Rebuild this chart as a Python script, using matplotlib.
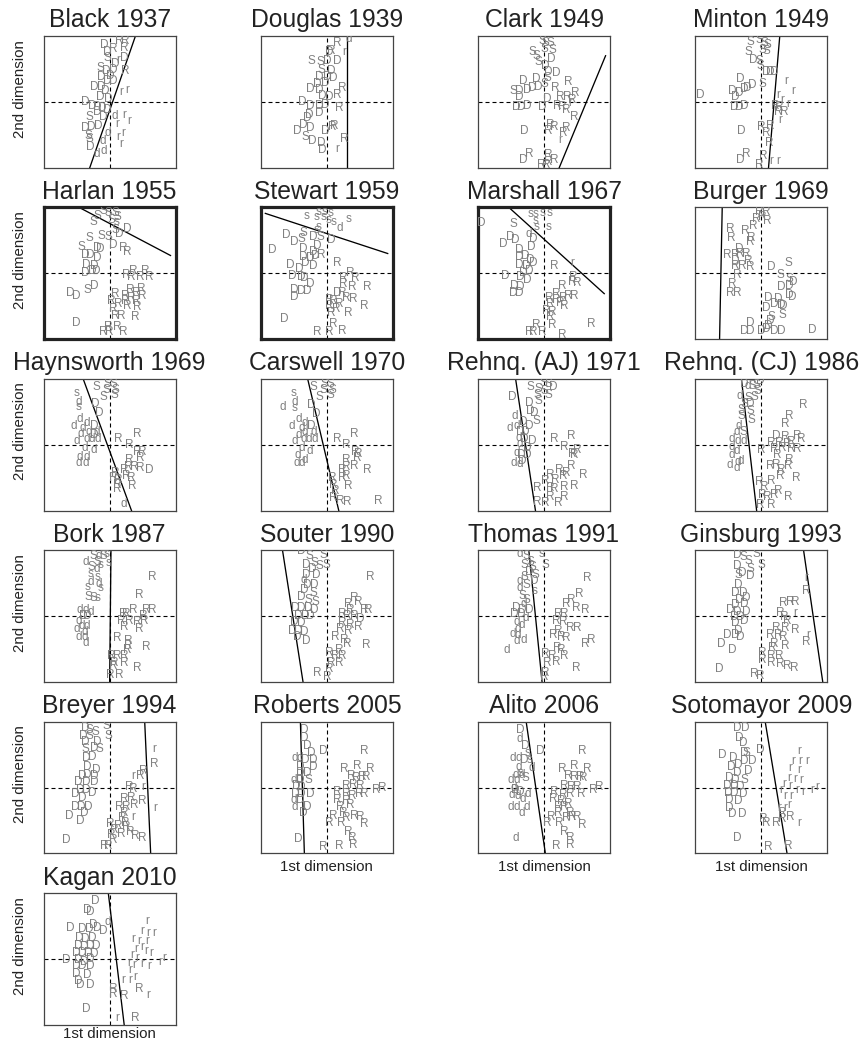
import matplotlib
matplotlib.use('Agg')
import matplotlib.pyplot as plt

plt.rcParams['font.family'] = ['Liberation Sans', 'DejaVu Sans']

# ideal points (letter, 1st dim, 2nd dim)
black = [("D",-0.08,0.87),("R",0.06,0.81),("R",0.14,0.92),("R",0.24,0.92),("R",0.22,0.82),
    ("D",-0.03,0.76),("S",-0.03,0.66),("r",0.13,0.63),("D",0.22,0.67),("D",0.08,0.58),
    ("S",-0.14,0.51),("D",-0.05,0.47),("D",0.06,0.48),("R",0.23,0.47),("D",-0.12,0.38),
    ("D",0.01,0.39),("D",-0.03,0.31),("D",0.06,0.31),("D",-0.24,0.22),("D",-0.13,0.22),
    ("D",-0.07,0.17),("r",0.18,0.15),("r",0.27,0.18),("D",-0.14,0.07),("D",-0.02,0.04),
    ("D",-0.37,0.00),("D",-0.26,-0.06),("D",-0.18,-0.08),("D",-0.11,-0.10),("D",-0.03,-0.12),
    ("D",-0.19,-0.16),("S",-0.30,-0.23),("D",-0.09,-0.23),("d",0.07,-0.22),("r",0.22,-0.20),
    ("r",0.30,-0.29),("r",0.12,-0.33),("D",-0.37,-0.40),("D",-0.28,-0.39),("D",-0.17,-0.37),
    ("S",-0.32,-0.52),("d",-0.03,-0.47),("r",0.13,-0.54),("r",0.20,-0.47),("S",-0.31,-0.57),
    ("d",-0.11,-0.60),("r",0.18,-0.64),("D",-0.29,-0.68),("d",-0.19,-0.79),("d",-0.09,-0.75)]

douglas = [("R",0.15,0.90),("d",0.33,0.95),("D",0.03,0.75),("R",0.07,0.77),("r",0.26,0.76),
    ("S",-0.24,0.62),("S",-0.10,0.60),("D",0.01,0.62),("D",0.15,0.62),("S",-0.09,0.48),
    ("D",0.06,0.47),("D",-0.12,0.37),("D",0.01,0.37),("D",0.10,0.36),("D",-0.15,0.27),
    ("D",-0.03,0.28),("D",-0.25,0.19),("D",-0.12,0.18),("R",0.24,0.21),("R",0.15,0.11),
    ("D",-0.07,0.09),("D",0.03,0.07),("D",-0.37,0.00),("D",-0.25,-0.06),("D",-0.12,-0.06),
    ("D",-0.02,-0.05),("R",0.19,-0.09),("D",-0.27,-0.20),("D",-0.12,-0.17),("D",-0.29,-0.25),
    ("D",-0.35,-0.35),("D",-0.25,-0.40),("R",0.11,-0.37),("R",0.08,-0.39),("D",-0.45,-0.45),
    ("D",-0.03,-0.45),("S",-0.32,-0.54),("D",-0.22,-0.59),("D",-0.08,-0.62),("R",0.27,-0.57),
    ("r",0.15,-0.71),("D",-0.07,-0.74)]

clark = [("S",-0.03,0.93),("S",0.02,0.89),("S",0.10,0.89),("S",0.00,0.80),("S",0.12,0.78),
    ("S",-0.18,0.75),("S",-0.11,0.70),("D",0.11,0.65),("S",-0.09,0.61),("D",0.02,0.54),
    ("D",0.07,0.45),("D",0.19,0.44),("S",0.05,0.36),("D",-0.31,0.32),("D",-0.12,0.34),
    ("R",0.36,0.30),("S",-0.46,0.17),("D",-0.37,0.17),("D",-0.26,0.18),("D",-0.18,0.21),
    ("D",-0.09,0.22),("S",0.00,0.27),("R",0.17,0.21),("D",-0.38,0.08),("R",0.47,0.14),
    ("R",0.25,0.08),("D",0.05,0.04),("R",0.35,0.07),("R",0.43,0.03),("D",-0.42,-0.08),
    ("D",-0.35,-0.08),("D",-0.25,-0.06),("D",-0.03,-0.08),("R",0.20,-0.06),("R",0.28,-0.08),
    ("R",0.34,-0.13),("r",0.40,-0.02),("R",0.45,-0.23),("D",-0.30,-0.44),("R",0.10,-0.35),
    ("R",0.15,-0.38),("R",0.07,-0.45),("R",0.33,-0.40),("R",0.29,-0.47),("r",0.25,-0.58),
    ("D",-0.32,-0.88),("R",-0.22,-0.79),("R",0.06,-0.81),("R",0.07,-0.91),("R",0.15,-0.89),
    ("R",-0.04,-0.96),("R",0.04,-0.96)]

minton = [("S",-0.16,0.91),("S",-0.03,0.94),("S",0.04,0.90),("S",0.10,0.87),("S",0.02,0.79),
    ("S",0.07,0.77),("S",-0.19,0.75),("D",-0.12,0.63),("S",-0.03,0.62),("S",-0.01,0.54),
    ("D",0.07,0.46),("D",0.14,0.46),("D",0.19,0.45),("D",-0.31,0.34),("D",-0.13,0.26),
    ("D",-0.26,0.19),("D",-0.44,0.17),("D",-0.34,0.14),("S",0.02,0.27),("D",-0.21,0.21),
    ("r",0.37,0.31),("r",0.48,0.16),("D",-0.92,0.11),("D",-0.39,0.08),("r",0.26,0.11),
    ("r",0.31,0.03),("r",0.41,-0.03),("R",0.21,-0.06),("R",0.27,-0.08),("R",0.35,-0.15),
    ("D",-0.41,-0.08),("D",-0.34,-0.08),("D",-0.25,-0.06),("R",0.26,-0.16),("r",0.29,-0.27),
    ("D",-0.30,-0.44),("R",0.00,-0.38),("R",0.14,-0.37),("R",0.08,-0.47),("R",0.12,-0.62),
    ("D",-0.32,-0.89),("R",-0.22,-0.79),("R",0.03,-0.82),("R",-0.03,-0.96),("r",0.15,-0.90),
    ("r",0.25,-0.90)]

harlan = [("S",-0.09,0.94),("S",-0.02,0.91),("S",0.08,0.92),("S",0.11,0.86),("S",-0.19,0.87),
    ("S",-0.24,0.78),("S",0.03,0.81),("s",0.10,0.78),("D",0.27,0.68),("S",0.08,0.65),
    ("D",0.15,0.60),("S",-0.30,0.53),("S",-0.12,0.56),("S",-0.02,0.55),("D",0.06,0.43),
    ("S",-0.42,0.40),("D",-0.19,0.38),("D",-0.14,0.37),("R",0.20,0.38),("R",0.27,0.32),
    ("D",-0.37,0.28),("D",-0.30,0.27),("D",-0.19,0.23),("D",-0.35,0.13),("D",-0.24,0.11),
    ("D",-0.37,0.01),("D",-0.27,0.03),("D",-0.20,0.03),("R",0.25,-0.02),("R",0.36,0.03),
    ("R",0.54,0.03),("R",0.60,-0.06),("R",0.33,-0.05),("R",0.46,-0.06),("D",-0.23,-0.19),
    ("S",-0.34,-0.25),("R",0.31,-0.26),("R",0.40,-0.30),("R",0.48,-0.24),("D",-0.60,-0.30),
    ("D",-0.51,-0.35),("R",0.08,-0.32),("R",0.23,-0.35),("R",0.33,-0.37),("R",0.50,-0.35),
    ("R",0.03,-0.42),("R",0.13,-0.46),("R",0.23,-0.42),("R",0.40,-0.42),("R",0.06,-0.55),
    ("R",0.27,-0.50),("R",0.41,-0.51),("R",0.08,-0.65),("R",0.17,-0.65),("R",0.39,-0.67),
    ("D",-0.51,-0.75),("R",-0.02,-0.82),("R",0.11,-0.82),("R",-0.09,-0.90),("R",0.00,-0.90),
    ("R",0.21,-0.89)]

stewart = [("s",-0.31,0.87),("s",-0.13,0.93),("s",-0.03,0.93),("s",0.05,0.91),("s",-0.15,0.85),
    ("s",-0.05,0.85),("s",0.03,0.81),("s",0.10,0.78),("d",0.19,0.69),("s",0.33,0.83),
    ("s",-0.13,0.71),("s",-0.15,0.65),("S",-0.35,0.61),("D",-0.62,0.58),("D",-0.49,0.47),
    ("S",-0.38,0.52),("D",-0.21,0.55),("S",-0.10,0.55),("D",0.06,0.50),("D",-0.15,0.41),
    ("D",-0.82,0.35),("D",-0.36,0.37),("D",-0.21,0.33),("R",-0.09,0.28),("D",-0.35,0.25),
    ("D",-0.25,0.23),("D",-0.18,0.26),("D",-0.33,0.16),("D",-0.20,0.11),("D",-0.55,0.13),
    ("R",0.16,0.15),("D",-0.41,0.06),("D",-0.38,-0.06),("D",-0.53,-0.04),("D",-0.34,-0.07),
    ("D",-0.25,-0.16),("R",0.35,0.00),("R",0.25,-0.07),("R",0.43,-0.07),("R",0.25,-0.16),
    ("R",0.38,-0.21),("R",0.61,-0.21),("D",-0.49,-0.25),("D",-0.38,-0.27),("D",-0.30,-0.27),
    ("D",-0.49,-0.36),("D",0.16,-0.30),("R",0.23,-0.30),("R",0.30,-0.37),("R",0.40,-0.39),
    ("R",0.03,-0.40),("R",0.10,-0.42),("R",0.03,-0.50),("R",0.18,-0.47),("R",0.14,-0.55),
    ("R",0.56,-0.50),("R",0.06,-0.61),("R",0.33,-0.61),("D",-0.65,-0.70),("R",0.09,-0.77),
    ("R",-0.15,-0.89),("R",0.03,-0.90),("R",0.23,-0.87)]

marshall = [("D",-0.95,0.77),("S",-0.47,0.75),("s",-0.21,0.90),("s",-0.13,0.90),("s",-0.02,0.92),
    ("s",0.08,0.91),("s",-0.13,0.80),("s",-0.12,0.70),("s",0.07,0.70),("d",-0.23,0.60),
    ("D",-0.16,0.52),("D",-0.19,0.40),("D",-0.61,0.45),("D",-0.51,0.55),("D",-0.44,0.50),
    ("D",-0.37,0.35),("D",-0.37,0.25),("D",-0.28,0.26),("D",-0.21,0.20),("D",-0.38,0.13),
    ("D",-0.27,0.11),("D",-0.17,0.16),("D",-0.31,0.01),("D",-0.22,0.03),("D",-0.59,-0.04),
    ("D",-0.36,-0.05),("D",-0.26,-0.10),("R",0.15,0.11),("r",0.42,0.16),("R",0.44,-0.05),
    ("R",0.42,-0.14),("R",0.50,-0.15),("R",0.28,-0.19),("D",-0.45,-0.19),("D",-0.36,-0.21),
    ("D",-0.46,-0.30),("D",-0.37,-0.30),("R",0.19,-0.32),("R",0.08,-0.37),("R",0.19,-0.40),
    ("R",0.29,-0.37),("R",0.37,-0.35),("R",0.45,-0.35),("R",0.10,-0.46),("R",0.24,-0.45),
    ("R",0.30,-0.49),("R",0.04,-0.57),("R",0.13,-0.59),("R",0.09,-0.67),("R",-0.12,-0.79),
    ("R",0.12,-0.79),("R",0.72,-0.77),("R",-0.23,-0.90),("R",-0.16,-0.90),("R",-0.02,-0.89),
    ("R",0.28,-0.94)]

burger = [("R",-0.03,0.93),("R",0.07,0.93),("R",0.02,0.86),("R",-0.08,0.82),("R",0.09,0.80),
    ("R",-0.12,0.72),("R",-0.47,0.67),("R",-0.24,0.64),("R",-0.46,0.53),("R",-0.15,0.53),
    ("R",-0.17,0.47),("D",-0.34,0.37),("R",-0.51,0.27),("R",-0.40,0.27),("R",-0.31,0.29),
    ("R",-0.22,0.29),("R",-0.19,0.19),("R",-0.39,0.11),("R",-0.29,0.11),("R",-0.17,0.10),
    ("D",-0.39,0.19),("R",-0.36,-0.03),("R",-0.44,-0.16),("R",-0.47,-0.30),("R",-0.37,-0.30),
    ("D",0.15,0.10),("S",0.41,0.15),("S",0.29,-0.02),("S",0.42,-0.09),("D",0.49,-0.13),
    ("D",0.42,-0.19),("D",0.30,-0.21),("D",0.42,-0.33),("D",0.47,-0.36),("D",0.10,-0.38),
    ("D",0.25,-0.39),("D",0.20,-0.46),("D",0.30,-0.48),("D",0.34,-0.49),("D",0.07,-0.53),
    ("S",0.32,-0.63),("S",0.15,-0.66),("D",0.14,-0.72),("D",-0.17,-0.75),("D",0.10,-0.80),
    ("D",-0.26,-0.88),("D",-0.16,-0.87),("D",0.00,-0.88),("D",0.20,-0.88),("D",0.30,-0.87),
    ("D",0.77,-0.86),("D",0.08,-0.85)]

haynsworth = [("s",-0.50,0.79),("S",-0.20,0.88),("S",-0.03,0.93),("S",0.06,0.92),("S",-0.05,0.83),
    ("S",0.08,0.83),("S",-0.10,0.73),("S",0.07,0.75),("d",-0.47,0.65),("s",-0.47,0.57),
    ("D",-0.22,0.62),("D",-0.16,0.48),("d",-0.45,0.39),("d",-0.34,0.33),("d",-0.54,0.28),
    ("D",-0.24,0.29),("d",-0.40,0.25),("d",-0.32,0.19),("d",-0.44,0.16),("d",-0.20,0.19),
    ("D",-0.24,0.15),("d",-0.49,0.05),("d",-0.35,0.08),("d",-0.27,0.09),("d",-0.18,0.09),
    ("d",-0.37,-0.05),("d",-0.24,-0.08),("d",-0.45,-0.18),("d",-0.35,-0.18),("d",-0.46,-0.28),
    ("d",-0.36,-0.28),("R",0.13,0.09),("R",0.41,0.16),("R",0.30,-0.01),("R",0.42,-0.11),
    ("R",0.49,-0.11),("R",0.47,-0.20),("R",0.30,-0.23),("R",0.28,-0.34),("R",0.37,-0.34),
    ("R",0.46,-0.36),("D",0.60,-0.39),("R",0.08,-0.43),("R",0.22,-0.39),("R",0.06,-0.51),
    ("R",0.13,-0.53),("R",0.25,-0.48),("R",0.32,-0.51),("R",0.11,-0.61),("R",0.34,-0.63),
    ("R",0.12,-0.68),("d",0.21,-0.90)]

carswell = [("s",-0.50,0.79),("S",-0.20,0.88),("S",-0.04,0.93),("S",0.06,0.92),("S",-0.06,0.83),
    ("S",0.08,0.83),("S",-0.11,0.73),("S",0.06,0.75),("d",-0.67,0.57),("d",-0.49,0.65),
    ("s",-0.49,0.56),("D",-0.24,0.61),("D",-0.16,0.47),("d",-0.43,0.39),("d",-0.34,0.33),
    ("d",-0.53,0.28),("D",-0.24,0.29),("d",-0.38,0.25),("d",-0.34,0.19),("d",-0.43,0.15),
    ("d",-0.20,0.19),("d",-0.48,0.05),("d",-0.35,0.08),("d",-0.28,0.09),("d",-0.19,0.08),
    ("d",-0.38,-0.05),("d",-0.26,-0.09),("d",-0.44,-0.16),("d",-0.34,-0.23),("d",-0.46,-0.28),
    ("d",-0.38,-0.28),("R",0.15,0.09),("R",0.42,0.16),("R",0.30,-0.01),("R",0.43,-0.11),
    ("R",0.48,-0.14),("R",0.46,-0.20),("R",0.30,-0.23),("R",0.30,-0.34),("R",0.42,-0.33),
    ("R",0.61,-0.39),("R",0.23,-0.39),("R",0.08,-0.51),("R",0.23,-0.50),("R",0.30,-0.47),
    ("R",0.10,-0.61),("R",0.33,-0.63),("R",0.13,-0.71),("R",0.21,-0.86),("R",0.31,-0.87),
    ("R",0.77,-0.85),("R",0.10,-0.81)]

rehnq_aj = [("S",-0.21,0.88),("S",-0.01,0.94),("S",0.07,0.92),("D",0.14,0.87),("S",-0.08,0.84),
    ("S",0.00,0.81),("S",-0.10,0.75),("S",0.07,0.75),("S",-0.09,0.67),("D",-0.48,0.73),
    ("D",-0.23,0.63),("D",-0.21,0.51),("D",-0.15,0.48),("S",-0.11,0.36),("d",-0.45,0.44),
    ("d",-0.52,0.26),("d",-0.41,0.28),("D",-0.32,0.34),("D",-0.23,0.28),("D",-0.36,0.19),
    ("D",-0.28,0.19),("d",-0.39,0.10),("D",-0.30,0.08),("D",-0.18,0.06),("d",-0.36,0.01),
    ("D",-0.26,-0.05),("d",-0.41,-0.13),("D",-0.34,-0.15),("D",-0.26,-0.15),("d",-0.46,-0.28),
    ("d",-0.36,-0.29),("D",-0.33,-0.24),("R",0.15,0.08),("R",0.41,0.14),("R",0.30,-0.03),
    ("R",0.50,-0.08),("R",0.43,-0.14),("R",0.46,-0.16),("R",0.41,-0.33),("R",0.23,-0.39),
    ("R",0.33,-0.43),("R",0.60,-0.46),("R",0.10,-0.46),("R",0.02,-0.55),("R",0.17,-0.53),
    ("R",0.29,-0.48),("R",-0.10,-0.66),("R",0.10,-0.66),("R",0.16,-0.68),("R",0.30,-0.65),
    ("R",0.46,-0.62),("R",0.09,-0.80),("R",0.30,-0.80),("R",-0.10,-0.87),("R",0.02,-0.89),
    ("R",0.21,-0.89)]

rehnq_cj = [("S",-0.08,0.91),("D",-0.01,0.97),("d",-0.20,0.89),("S",-0.14,0.89),("D",-0.25,0.92),
    ("S",-0.06,0.81),("d",-0.32,0.74),("S",-0.19,0.71),("S",-0.11,0.72),("D",-0.17,0.62),
    ("S",-0.26,0.62),("S",-0.30,0.53),("S",-0.17,0.52),("S",-0.30,0.43),("S",-0.15,0.38),
    ("d",-0.34,0.28),("d",-0.37,0.19),("S",-0.27,0.19),("d",-0.44,0.08),("d",-0.36,0.05),
    ("d",-0.26,0.05),("d",-0.44,-0.03),("d",-0.37,-0.09),("d",-0.44,-0.15),("d",-0.31,-0.24),
    ("d",-0.47,-0.31),("d",-0.37,-0.36),("d",-0.36,-0.27),("R",0.63,0.61),("R",0.43,0.43),
    ("R",0.37,0.31),("D",0.22,0.14),("R",0.36,0.11),("R",0.54,0.13),("R",0.61,0.09),
    ("R",0.15,0.03),("R",0.27,0.03),("R",0.39,0.01),("R",0.46,0.04),("R",0.00,-0.08),
    ("R",0.20,-0.06),("R",0.32,-0.05),("R",0.45,-0.06),("R",0.54,-0.06),("R",0.24,-0.15),
    ("R",0.42,-0.23),("R",0.22,-0.31),("R",0.14,-0.33),("R",0.30,-0.38),("R",0.41,-0.32),
    ("R",0.29,-0.47),("R",0.53,-0.50),("R",-0.03,-0.56),("R",0.15,-0.55),("R",0.04,-0.64),
    ("R",0.25,-0.70),("R",0.02,-0.77),("R",0.09,-0.80),("R",0.19,-0.77),("R",0.41,-0.80),
    ("R",-0.02,-0.91),("R",0.15,-0.91)]

bork = [("d",-0.36,0.83),("S",-0.25,0.91),("d",-0.17,0.92),("S",-0.09,0.92),("s",-0.05,0.94),
    ("S",-0.19,0.83),("s",-0.13,0.78),("s",-0.02,0.81),("S",-0.27,0.74),("d",-0.19,0.72),
    ("s",-0.29,0.64),("s",-0.19,0.59),("d",-0.28,0.52),("d",-0.17,0.49),("s",-0.34,0.45),
    ("s",-0.14,0.43),("S",-0.32,0.29),("S",-0.24,0.27),("s",-0.19,0.27),("d",-0.45,0.10),
    ("d",-0.36,0.10),("d",-0.28,0.07),("D",-0.40,0.00),("D",-0.34,0.01),("d",-0.46,-0.07),
    ("d",-0.42,-0.15),("d",-0.34,-0.15),("d",-0.50,-0.20),("d",-0.37,-0.24),("d",-0.46,-0.31),
    ("d",-0.37,-0.32),("d",-0.36,-0.41),("R",0.64,0.60),("R",0.45,0.32),("R",0.36,0.10),
    ("R",0.56,0.10),("R",0.64,0.10),("R",0.20,0.03),("R",0.25,0.03),("R",0.18,-0.07),
    ("R",0.30,-0.07),("R",0.51,0.00),("R",0.52,-0.08),("R",0.41,-0.09),("R",0.22,-0.17),
    ("R",0.45,-0.20),("R",0.28,-0.38),("R",0.12,-0.33),("R",0.28,-0.46),("R",0.26,-0.52),
    ("R",0.55,-0.47),("R",0.03,-0.61),("R",0.12,-0.61),("R",0.22,-0.61),("R",0.07,-0.71),
    ("R",0.22,-0.71),("R",0.41,-0.79),("R",0.05,-0.76),("R",0.01,-0.90),("R",0.15,-0.90)]

souter = [("D",-0.38,0.99),("S",-0.26,0.91),("S",-0.06,0.93),("S",-0.01,0.78),("D",-0.31,0.78),
    ("S",-0.19,0.81),("D",-0.22,0.72),("S",-0.12,0.76),("D",-0.31,0.63),("D",-0.16,0.63),
    ("d",-0.35,0.55),("D",-0.30,0.48),("D",-0.19,0.48),("D",-0.34,0.40),("S",-0.21,0.35),
    ("D",-0.38,0.29),("S",-0.28,0.25),("S",-0.18,0.22),("D",-0.48,0.13),("D",-0.38,0.13),
    ("D",-0.28,0.13),("D",-0.19,0.10),("D",-0.43,0.00),("D",-0.33,0.01),("D",-0.25,0.00),
    ("D",-0.50,-0.09),("D",-0.38,-0.10),("D",-0.53,-0.22),("D",-0.43,-0.22),("D",-0.34,-0.24),
    ("D",-0.45,-0.32),("D",-0.31,-0.37),("R",0.65,0.60),("R",0.41,0.28),("R",0.32,0.18),
    ("R",0.47,0.22),("R",0.36,0.10),("R",0.56,0.10),("R",0.62,0.10),("R",0.23,0.03),
    ("R",0.31,0.01),("R",0.41,0.01),("D",0.51,-0.05),("R",0.23,-0.10),("R",0.36,-0.13),
    ("R",0.47,-0.17),("R",0.20,-0.20),("R",0.33,-0.22),("R",0.13,-0.32),("R",0.26,-0.36),
    ("R",0.31,-0.43),("R",0.60,-0.44),("R",0.19,-0.51),("R",0.03,-0.56),("R",0.13,-0.61),
    ("R",0.23,-0.61),("R",0.06,-0.71),("R",0.19,-0.71),("R",0.03,-0.81),("R",-0.14,-0.86),
    ("R",0.01,-0.93)]

thomas = [("d",-0.37,0.95),("S",-0.26,0.92),("s",-0.04,0.94),("S",-0.20,0.83),("S",0.02,0.78),
    ("S",-0.30,0.78),("S",-0.18,0.74),("D",-0.23,0.67),("S",-0.13,0.63),("S",-0.30,0.60),
    ("D",-0.15,0.54),("d",-0.37,0.54),("S",-0.26,0.47),("s",-0.14,0.39),("d",-0.37,0.43),
    ("S",-0.33,0.30),("S",-0.26,0.25),("d",-0.30,0.18),("D",-0.42,0.12),("D",-0.33,0.10),
    ("D",-0.23,0.10),("D",-0.45,0.03),("D",-0.35,0.03),("d",-0.28,-0.03),("d",-0.42,-0.09),
    ("d",-0.33,-0.13),("d",-0.40,-0.19),("d",-0.48,-0.27),("d",-0.40,-0.29),("d",-0.31,-0.36),
    ("d",-0.42,-0.38),("d",-0.57,-0.51),("R",0.66,0.58),("R",0.53,0.33),("R",0.41,0.24),
    ("R",0.33,0.18),("R",0.49,0.12),("R",0.63,0.10),("R",0.21,0.03),("R",0.31,0.03),
    ("R",0.19,-0.08),("R",0.29,-0.09),("R",0.40,-0.18),("R",0.50,-0.18),("R",0.22,-0.22),
    ("R",0.14,-0.29),("R",0.26,-0.31),("R",0.34,-0.33),("R",0.71,-0.36),("R",0.63,-0.42),
    ("R",0.20,-0.48),("R",0.26,-0.52),("R",0.02,-0.58),("R",0.12,-0.61),("R",0.30,-0.61),
    ("R",0.19,-0.69),("R",0.05,-0.71),("R",0.49,-0.78),("R",0.02,-0.86),("R",0.01,-0.93)]

ginsburg = [("D",-0.36,0.93),("S",-0.27,0.90),("S",-0.07,0.95),("S",-0.19,0.84),("S",0.00,0.78),
    ("D",-0.37,0.76),("S",-0.16,0.72),("D",-0.29,0.66),("S",-0.34,0.62),("D",-0.16,0.61),
    ("D",-0.35,0.47),("D",-0.39,0.35),("D",-0.27,0.35),("D",-0.22,0.28),("D",-0.34,0.24),
    ("D",-0.40,0.17),("D",-0.26,0.18),("D",-0.47,0.10),("D",-0.36,0.07),("D",-0.23,0.07),
    ("D",-0.41,-0.02),("D",-0.31,-0.02),("D",-0.40,-0.10),("D",-0.26,-0.07),("D",-0.35,-0.22),
    ("D",-0.52,-0.28),("D",-0.40,-0.29),("D",-0.32,-0.31),("D",-0.61,-0.43),("D",-0.44,-0.51),
    ("D",-0.64,-0.80),("r",0.68,0.58),("R",0.68,0.38),("R",0.34,0.20),("R",0.44,0.22),
    ("R",0.51,0.22),("R",0.29,0.05),("r",0.51,0.05),("R",0.35,-0.02),("R",0.39,-0.07),
    ("R",0.22,-0.18),("R",0.37,-0.18),("R",0.51,-0.21),("R",0.14,-0.29),("R",0.26,-0.29),
    ("R",0.34,-0.31),("r",0.71,-0.29),("R",0.68,-0.39),("R",0.20,-0.42),("R",0.37,-0.45),
    ("R",0.17,-0.48),("R",0.02,-0.56),("R",0.15,-0.61),("R",0.27,-0.61),("R",0.02,-0.66),
    ("R",0.15,-0.71),("R",0.29,-0.73),("R",0.40,-0.76),("R",0.50,-0.78),("R",-0.10,-0.88),
    ("R",-0.02,-0.91)]

breyer = [("S",-0.05,0.94),("D",-0.37,0.91),("S",-0.30,0.87),("S",-0.22,0.84),("S",-0.02,0.78),
    ("D",-0.40,0.78),("S",-0.31,0.78),("D",-0.18,0.70),("D",-0.37,0.69),("S",-0.36,0.59),
    ("D",-0.24,0.60),("S",-0.16,0.59),("r",0.68,0.59),("D",-0.36,0.45),("D",-0.26,0.47),
    ("R",0.67,0.36),("D",-0.34,0.32),("D",-0.21,0.27),("D",-0.42,0.18),("D",-0.34,0.19),
    ("D",-0.24,0.18),("R",0.51,0.25),("R",0.46,0.18),("r",0.35,0.18),("D",-0.47,0.09),
    ("D",-0.35,0.08),("D",-0.24,0.08),("R",0.29,0.01),("R",0.35,-0.02),("r",0.51,0.01),
    ("D",-0.45,-0.03),("D",-0.35,-0.03),("D",-0.52,-0.09),("D",-0.27,-0.08),("D",-0.42,-0.15),
    ("R",0.22,-0.18),("R",0.32,-0.15),("R",0.50,-0.21),("R",0.37,-0.26),("D",-0.52,-0.29),
    ("D",-0.43,-0.29),("D",-0.32,-0.30),("R",0.15,-0.30),("R",0.25,-0.30),("r",0.69,-0.31),
    ("D",-0.39,-0.39),("R",0.22,-0.39),("r",0.36,-0.44),("D",-0.61,-0.43),("D",-0.45,-0.51),
    ("R",0.19,-0.46),("R",0.24,-0.53),("R",0.01,-0.56),("R",0.13,-0.59),("R",0.25,-0.60),
    ("R",0.07,-0.64),("R",0.03,-0.72),("R",0.17,-0.70),("R",0.31,-0.68),("R",0.39,-0.74),
    ("R",0.50,-0.77),("D",-0.65,-0.80),("R",0.05,-0.80),("R",-0.08,-0.88),("R",-0.02,-0.88)]

roberts = [("D",-0.34,0.87),("D",-0.34,0.75),("D",-0.29,0.63),("D",-0.24,0.52),("D",-0.06,0.56),
    ("d",-0.49,0.45),("d",-0.41,0.45),("D",-0.33,0.42),("D",-0.20,0.42),("D",-0.21,0.32),
    ("D",-0.40,0.32),("D",-0.40,0.22),("D",-0.30,0.22),("d",-0.50,0.12),("D",-0.40,0.12),
    ("S",-0.28,0.12),("D",-0.46,0.02),("D",-0.38,0.01),("D",-0.48,-0.09),("D",-0.38,-0.09),
    ("D",-0.25,-0.09),("d",-0.50,-0.19),("D",-0.40,-0.19),("d",-0.49,-0.30),("D",-0.29,-0.30),
    ("D",-0.35,-0.39),("D",-0.43,-0.78),("R",0.57,0.55),("R",0.27,0.28),("R",0.46,0.33),
    ("R",0.65,0.28),("R",0.37,0.18),("R",0.45,0.14),("R",0.53,0.16),("R",0.60,0.16),
    ("R",0.30,0.02),("R",0.40,0.04),("R",0.50,0.02),("R",0.84,-0.01),("R",0.75,-0.04),
    ("R",0.15,-0.07),("R",0.30,-0.09),("R",0.38,-0.12),("R",0.49,-0.09),("R",0.56,-0.09),
    ("R",0.15,-0.19),("R",0.30,-0.21),("R",0.21,-0.29),("R",0.36,-0.26),("R",0.25,-0.39),
    ("R",0.10,-0.43),("R",0.30,-0.46),("R",0.42,-0.43),("R",0.50,-0.45),("R",0.04,-0.54),
    ("R",0.22,-0.54),("R",0.57,-0.56),("R",0.32,-0.68),("R",0.38,-0.77),("R",0.40,-0.87),
    ("R",-0.06,-0.90),("R",0.18,-0.89)]

alito = [("D",-0.36,0.87),("d",-0.36,0.74),("D",-0.29,0.63),("s",-0.25,0.52),("D",-0.05,0.56),
    ("d",-0.48,0.45),("d",-0.38,0.45),("D",-0.30,0.42),("s",-0.22,0.42),("d",-0.38,0.31),
    ("d",-0.19,0.30),("s",-0.36,0.22),("d",-0.43,0.19),("d",-0.33,0.19),("S",-0.28,0.14),
    ("d",-0.51,0.12),("d",-0.42,0.11),("d",-0.46,-0.01),("D",-0.43,-0.03),("D",-0.36,-0.06),
    ("d",-0.25,-0.09),("d",-0.49,-0.11),("d",-0.40,-0.12),("d",-0.32,-0.18),("d",-0.51,-0.29),
    ("d",-0.42,-0.30),("d",-0.26,-0.30),("d",-0.34,-0.39),("d",-0.43,-0.76),("R",0.58,0.55),
    ("R",0.28,0.28),("R",0.46,0.33),("R",0.65,0.28),("R",0.36,0.17),("R",0.45,0.16),
    ("R",0.54,0.16),("R",0.60,0.14),("R",0.30,0.02),("R",0.41,0.01),("R",0.50,0.01),
    ("R",0.83,0.01),("R",0.75,-0.03),("R",0.15,-0.07),("R",0.29,-0.11),("R",0.40,-0.09),
    ("R",0.56,-0.09),("R",0.14,-0.18),("R",0.26,-0.21),("R",0.36,-0.25),("R",0.21,-0.29),
    ("R",0.30,-0.30),("R",0.21,-0.38),("R",0.40,-0.38),("R",0.11,-0.44),("R",0.33,-0.46),
    ("R",0.43,-0.45),("R",0.50,-0.45),("R",0.05,-0.54),("R",0.23,-0.54),("R",0.58,-0.57),
    ("R",0.30,-0.68),("R",0.39,-0.77),("R",0.40,-0.87),("R",0.19,-0.89)]

sotomayor = [("D",-0.37,0.90),("D",-0.24,0.90),("D",-0.34,0.76),("D",-0.27,0.68),("D",-0.59,0.49),
    ("D",-0.42,0.45),("D",-0.26,0.53),("S",-0.22,0.53),("D",-0.02,0.57),("D",-0.13,0.41),
    ("D",-0.25,0.41),("D",-0.45,0.32),("D",-0.35,0.35),("D",-0.20,0.25),("D",-0.36,0.22),
    ("D",-0.49,0.15),("D",-0.40,0.12),("S",-0.26,0.12),("D",-0.52,0.02),("D",-0.41,0.02),
    ("D",-0.31,0.01),("D",-0.50,-0.08),("D",-0.41,-0.08),("D",-0.27,-0.09),("D",-0.49,-0.19),
    ("D",-0.35,-0.21),("D",-0.49,-0.31),("D",-0.44,-0.40),("D",-0.29,-0.40),("D",-0.36,-0.77),
    ("r",0.58,0.56),("r",0.48,0.40),("r",0.59,0.41),("r",0.69,0.41),("r",0.44,0.30),
    ("r",0.58,0.27),("r",0.42,0.14),("r",0.51,0.13),("r",0.60,0.11),("r",0.35,0.06),
    ("r",0.44,0.02),("r",0.30,-0.03),("r",0.54,-0.04),("r",0.64,-0.07),("r",0.77,-0.03),
    ("r",0.85,0.01),("r",0.36,-0.12),("r",0.45,-0.12),("r",0.27,-0.31),("r",0.36,-0.31),
    ("r",0.42,-0.26),("r",0.58,-0.54),("R",0.32,-0.38),("R",0.44,-0.44),("R",0.03,-0.47),
    ("R",0.07,-0.54),("R",0.22,-0.54),("R",0.32,-0.48),("R",0.10,-0.90),("R",0.41,-0.89)]

kagan = [("D",-0.22,0.89),("D",-0.34,0.75),("D",-0.29,0.71),("D",-0.25,0.52),("D",-0.60,0.48),
    ("D",-0.42,0.45),("D",-0.31,0.45),("D",-0.19,0.48),("D",-0.10,0.42),("d",-0.03,0.57),
    ("D",-0.46,0.32),("D",-0.37,0.30),("D",-0.27,0.32),("D",-0.47,0.20),("D",-0.39,0.19),
    ("D",-0.30,0.20),("D",-0.21,0.20),("D",-0.50,0.10),("D",-0.41,0.10),("D",-0.32,0.09),
    ("D",-0.24,0.08),("D",-0.65,-0.02),("D",-0.47,-0.02),("D",-0.39,-0.04),("D",-0.30,0.00),
    ("D",-0.51,-0.11),("D",-0.41,-0.11),("D",-0.29,-0.10),("D",-0.50,-0.22),("D",-0.34,-0.24),
    ("D",-0.47,-0.33),("D",-0.45,-0.39),("D",-0.29,-0.39),("D",-0.36,-0.76),("r",0.57,0.58),
    ("r",0.49,0.43),("r",0.59,0.40),("r",0.68,0.40),("r",0.35,0.30),("r",0.45,0.28),
    ("r",0.57,0.27),("r",0.40,0.15),("r",0.49,0.19),("r",0.55,0.13),("r",0.63,0.10),
    ("r",0.34,0.06),("r",0.41,0.01),("r",0.82,0.01),("r",0.76,-0.05),("r",0.30,-0.06),
    ("r",0.37,-0.09),("r",0.49,-0.07),("r",0.60,-0.10),("r",0.31,-0.16),("r",0.21,-0.32),
    ("r",0.31,-0.32),("r",0.39,-0.27),("r",0.59,-0.55),("R",0.05,-0.46),("R",0.06,-0.53),
    ("R",0.22,-0.56),("R",0.44,-0.46),("r",0.11,-0.90),("R",0.39,-0.90)]

panels = [black, douglas, clark, minton, harlan, stewart, marshall, burger,
          haynsworth, carswell, rehnq_aj, rehnq_cj, bork, souter, thomas, ginsburg,
          breyer, roberts, alito, sotomayor, kagan]

titles = ["Black 1937", "Douglas 1939", "Clark 1949", "Minton 1949",
          "Harlan 1955", "Stewart 1959", "Marshall 1967", "Burger 1969",
          "Haynsworth 1969", "Carswell 1970", "Rehnq. (AJ) 1971", "Rehnq. (CJ) 1986",
          "Bork 1987", "Souter 1990", "Thomas 1991", "Ginsburg 1993",
          "Breyer 1994", "Roberts 2005", "Alito 2006", "Sotomayor 2009",
          "Kagan 2010"]

# cutting line end points (x1, y1, x2, y2)
cutlines = [(-0.30,-1,0.39,1), (0.31,-1,0.31,1), (0.23,-1,0.93,0.70), (0.11,-1,0.28,1),
            (-0.46,1,0.92,0.27), (-0.93,0.91,0.92,0.30), (-0.52,0.99,0.91,-0.31), (-0.63,-1,-0.59,1),
            (-0.40,1,0.33,-1), (-0.29,1,0.18,-1), (-0.43,1,-0.13,-1), (-0.30,1,-0.07,-1),
            (0.02,1,0.00,-1), (-0.67,1,-0.36,-1), (-0.23,1,-0.03,-1), (0.64,1,0.93,-1),
            (0.53,1,0.62,-1), (-0.40,1,-0.34,-1), (-0.27,1,0.02,-1), (0.06,1,0.39,-1),
            (-0.02,1,0.22,-1)]

thick = ["Harlan 1955", "Stewart 1959", "Marshall 1967"]
xlabel_panels = ["Roberts 2005", "Alito 2006", "Sotomayor 2009", "Kagan 2010"]

W, H = 863, 1042
fig = plt.figure(figsize=(W/100, H/100), dpi=100)

for i, pts in enumerate(panels):
    r, c = divmod(i, 4)
    left = 43.5 + c*217.2
    top = 36 + r*171.46
    ax = fig.add_axes([left/W, 1 - (top + 131.6)/H, 132.3/W, 131.6/H])
    ax.set_xlim(-1, 1)
    ax.set_ylim(-1, 1)
    ax.set_xticks([])
    ax.set_yticks([])
    ax.axhline(0, color='k', lw=0.8, ls=(0, (3.6, 2.7)))
    ax.axvline(0, color='k', lw=0.8, ls=(0, (3.6, 2.7)))
    for lab, x, y in pts:
        ax.text(x, y, lab, ha='center', va='center', fontsize=8.5,
                color='#808080', clip_on=True)
    x1, y1, x2, y2 = cutlines[i]
    ax.plot([x1, x2], [y1, y2], color='k', lw=0.95)
    for sp in ax.spines.values():
        if titles[i] in thick:
            sp.set_linewidth(2.3)
            sp.set_color('#222222')
        else:
            sp.set_linewidth(0.9)
            sp.set_color('#444444')
    ax.set_title(titles[i], fontsize=17.8, pad=6.2, color='#222222')
    if c == 0:
        ax.text(-0.178, 0.60, '2nd dimension', rotation=90, ha='center', va='center',
                fontsize=10.8, color='#222222', transform=ax.transAxes)
    if titles[i] in xlabel_panels:
        yl = -0.068 if titles[i] == "Kagan 2010" else -0.104
        ax.text(0.5, yl, '1st dimension', ha='center', va='center',
                fontsize=10.8, color='#222222', transform=ax.transAxes)

plt.savefig('out.png', dpi=100)
